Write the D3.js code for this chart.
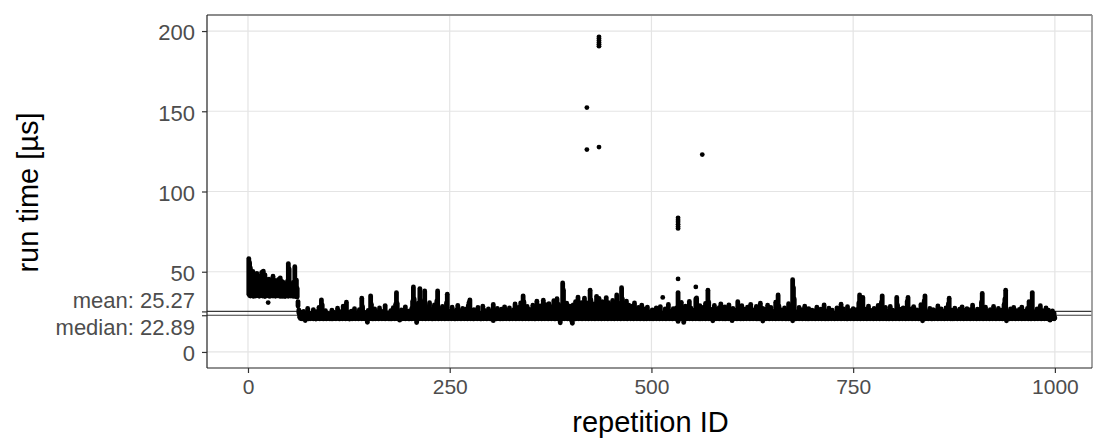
<!DOCTYPE html>
<html>
<head>
<meta charset="utf-8">
<script src="https://cdn.jsdelivr.net/npm/d3@7/dist/d3.min.js"></script>
<style>
  html, body { margin: 0; padding: 0; background: #ffffff; }
  svg { display: block; }
  text { font-family: "Liberation Sans", Arial, Helvetica, sans-serif; }
</style>
</head>
<body>
<svg id="chart" width="1094" height="440"></svg>
<script>
// Slowest regular run of each repetition, in microseconds (repetition IDs 1..1000, in order).
const runTimeHigh = [
  58.2, 55.6, 52.4, 47.1, 44.3, 50.2, 41.5, 38.2, 45.6, 36.1, 48.9, 42.3, 39.4, 47.2, 35.3, 44.1, 49.6, 38.5, 50.4, 36.2, 48.1, 43.4, 37.2, 40.6, 45.0,
  45.3, 39.1, 36.4, 42.5, 37.3, 47.2, 44.8, 38.1, 35.2, 44.4, 40.1, 37.5, 45.2, 36.3, 46.1, 38.4, 43.9, 34.6, 43.3, 39.2, 36.5, 42.1, 37.4, 44.2, 55.1,
  51.8, 38.3, 35.4, 41.2, 37.1, 43.3, 36.2, 53.1, 34.5, 44.8, 39.6, 31.4, 26.2, 23.5, 21.2, 24.8, 20.6, 22.1, 25.3, 21.4, 23.7, 20.9, 22.6, 27.1, 21.8,
  22.4, 20.8, 24.1, 21.5, 23.2, 26.4, 21.1, 22.7, 20.5, 25.1, 23.6, 21.3, 27.8, 22.2, 24.5, 32.5, 29.4, 23.1, 20.7, 22.9, 25.7, 21.6, 24.2, 20.9, 22.3,
  21.4, 23.8, 20.6, 26.1, 22.5, 21.2, 24.7, 20.8, 23.4, 22.0, 27.3, 21.5, 25.2, 20.7, 22.8, 24.0, 21.3, 28.6, 23.1, 20.9, 26.5, 31.0, 22.4, 21.0, 24.6,
  20.5, 22.9, 25.4, 21.7, 23.3, 20.8, 27.0, 22.1, 24.4, 21.2, 23.7, 20.6, 26.3, 22.6, 21.4, 33.5, 28.2, 22.0, 24.8, 20.9, 23.1, 21.5, 22.4, 25.9, 22.3,
  24.1, 35.0, 29.6, 21.3, 23.5, 20.7, 26.8, 22.2, 21.0, 24.9, 23.0, 20.6, 27.4, 21.8, 22.7, 25.3, 20.9, 23.9, 21.4, 28.9, 22.5, 20.8, 24.3, 21.7, 23.2,
  20.6, 25.8, 22.1, 21.3, 27.6, 23.4, 20.9, 29.8, 37.0, 30.2, 22.6, 21.1, 24.7, 20.7, 26.2, 22.9, 21.5, 23.6, 20.8, 28.1, 24.0, 21.2, 22.4, 25.5, 20.6,
  23.3, 21.0, 27.2, 31.5, 40.5, 33.0, 22.2, 24.6, 24.0, 26.9, 30.4, 23.7, 39.5, 32.1, 21.4, 25.0, 28.3, 22.8, 38.0, 29.1, 24.2, 20.9, 27.5, 22.0, 30.7,
  23.6, 21.3, 26.4, 20.7, 24.9, 29.3, 22.5, 21.1, 31.8, 38.0, 27.7, 23.0, 20.8, 25.6, 22.3, 28.4, 21.6, 24.2, 20.6, 26.8, 30.5, 36.0, 23.9, 21.2, 25.3,
  22.7, 20.9, 27.9, 23.4, 21.5, 24.8, 20.7, 26.0, 22.1, 29.0, 23.7, 21.0, 25.4, 20.6, 22.8, 27.2, 21.8, 24.3, 20.8, 26.6, 23.1, 21.4, 28.8, 30.9, 32.5,
  24.5, 21.1, 22.9, 20.7, 26.3, 23.8, 21.6, 25.1, 20.9, 27.7, 22.4, 21.2, 24.0, 20.6, 23.5, 28.5, 22.0, 25.9, 21.3, 20.8, 24.6, 22.6, 26.9, 21.5, 23.2,
  20.7, 25.6, 22.3, 29.6, 21.4, 24.1, 20.9, 23.6, 27.1, 21.7, 22.8, 25.2, 20.6, 26.7, 23.0, 21.3, 24.4, 28.1, 22.2, 20.8, 25.8, 21.9, 23.4, 27.4, 21.1,
  24.9, 22.5, 20.7, 26.2, 23.7, 29.9, 21.5, 25.4, 22.0, 27.8, 20.9, 24.3, 30.6, 23.1, 21.6, 35.0, 31.2, 22.7, 25.7, 20.8, 28.4, 23.9, 21.2, 26.5, 22.4,
  21.0, 24.7, 29.1, 22.6, 20.7, 27.3, 23.5, 31.6, 21.8, 25.5, 20.9, 28.7, 23.2, 26.1, 21.4, 32.3, 24.8, 22.1, 29.5, 20.8, 27.0, 23.8, 30.1, 22.5, 25.9,
  21.3, 28.2, 24.0, 31.9, 22.9, 20.7, 26.4, 33.2, 23.6, 29.7, 21.5, 25.1, 27.5, 24.4, 43.0, 38.5, 22.8, 26.9, 20.9, 30.4, 23.3, 25.2, 21.6, 28.6, 22.1,
  24.6, 26.0, 29.3, 22.4, 26.7, 31.4, 21.2, 25.0, 34.2, 23.7, 27.9, 20.8, 30.8, 24.1, 22.6, 28.0, 33.6, 21.7, 26.3, 30.5, 27.3, 29.2, 24.9, 38.5, 32.4,
  23.0, 27.2, 21.4, 30.0, 25.6, 22.5, 34.7, 28.5, 29.8, 33.4, 26.2, 24.5, 26.1, 31.3, 23.8, 20.9, 29.4, 24.7, 33.9, 22.2, 27.6, 30.7, 21.5, 25.3, 28.9,
  23.4, 32.1, 26.8, 21.1, 29.9, 24.3, 35.5, 22.7, 27.4, 30.3, 20.8, 25.8, 40.0, 33.1, 23.9, 28.2, 21.6, 26.0, 31.7, 24.5, 22.0, 29.1, 27.1, 20.7, 25.1,
  23.6, 28.7, 21.9, 30.5, 24.8, 22.3, 26.6, 20.9, 27.7, 23.1, 25.4, 21.5, 29.2, 22.6, 24.2, 20.7, 26.9, 23.8, 21.2, 28.0, 22.4, 25.0, 20.8, 24.5, 21.7,
  26.2, 22.8, 20.9, 24.9, 23.3, 27.5, 21.4, 25.7, 22.1, 20.6, 28.3, 23.7, 21.0, 23.5, 24.4, 22.5, 26.8, 20.8, 23.9, 21.6, 29.6, 22.9, 25.3, 21.2, 24.1,
  20.7, 27.0, 22.3, 25.5, 21.5, 27.4, 24.9, 37.0, 29.5, 26.0, 23.6, 30.9, 21.1, 26.4, 23.0, 24.0, 28.6, 22.7, 20.9, 25.8, 23.2, 31.5, 21.8, 27.3, 22.5,
  24.7, 20.8, 26.1, 23.0, 33.0, 33.7, 21.3, 25.2, 22.1, 28.9, 20.7, 24.6, 24.6, 27.8, 23.4, 21.6, 30.2, 25.9, 22.8, 38.5, 31.1, 21.0, 26.7, 23.7, 20.9,
  25.0, 22.2, 29.0, 21.4, 24.3, 26.9, 20.8, 23.5, 27.6, 22.0, 30.0, 21.2, 25.6, 23.1, 20.7, 28.1, 24.8, 22.6, 26.3, 21.0, 29.4, 23.8, 20.9, 25.4, 22.3,
  27.2, 21.6, 24.2, 20.8, 26.0, 22.9, 31.3, 23.6, 21.1, 25.9, 20.7, 28.8, 24.5, 22.4, 26.6, 21.3, 23.9, 20.9, 27.9, 22.7, 25.1, 21.5, 29.7, 23.3, 20.8,
  24.8, 22.2, 26.4, 21.0, 28.4, 23.4, 20.7, 25.7, 22.6, 30.4, 21.4, 24.0, 27.1, 22.9, 20.8, 26.5, 23.2, 21.6, 29.1, 24.6, 22.0, 20.9, 27.8, 23.7, 21.3,
  25.3, 22.5, 20.8, 31.0, 24.2, 21.7, 35.5, 28.6, 23.0, 20.9, 26.2, 22.3, 24.9, 21.2, 27.4, 23.5, 20.7, 25.6, 22.8, 30.1, 21.5, 24.4, 26.9, 22.1, 45.0,
  40.0, 33.0, 22.6, 20.8, 25.0, 23.3, 21.1, 27.7, 22.4, 24.7, 20.9, 26.3, 23.8, 21.6, 28.5, 22.0, 25.5, 20.7, 23.6, 27.0, 21.8, 24.1, 22.7, 26.0, 21.3,
  23.1, 20.8, 25.8, 22.2, 28.0, 21.5, 24.4, 20.9, 23.4, 26.6, 22.5, 21.0, 24.9, 29.3, 22.9, 20.7, 25.2, 23.0, 21.4, 27.3, 22.1, 24.6, 20.8, 26.1, 23.5,
  21.2, 24.0, 22.6, 20.9, 27.5, 23.2, 21.7, 25.4, 22.0, 29.8, 20.8, 24.2, 26.8, 22.8, 21.3, 23.7, 20.7, 28.2, 24.8, 22.3, 21.0, 25.7, 23.4, 20.9, 27.0,
  22.5, 24.5, 21.6, 26.3, 23.0, 20.8, 30.5, 35.5, 22.7, 25.1, 21.2, 34.0, 23.8, 20.9, 26.7, 22.2, 24.3, 21.4, 28.6, 23.3, 20.7, 25.9, 22.0, 24.7, 21.5,
  27.2, 23.1, 20.9, 25.0, 22.4, 29.0, 21.7, 24.6, 26.5, 31.0, 35.0, 22.9, 20.8, 24.1, 27.8, 21.3, 23.6, 25.5, 20.7, 22.6, 28.4, 24.0, 21.1, 26.1, 23.2,
  20.9, 25.3, 22.1, 34.0, 29.2, 23.7, 21.4, 26.6, 20.8, 24.4, 22.7, 27.5, 21.0, 23.9, 25.8, 22.3, 31.5, 34.0, 20.7, 24.8, 22.5, 26.9, 21.6, 23.4, 28.3,
  22.0, 24.9, 20.9, 26.2, 23.1, 21.5, 25.6, 22.8, 29.5, 21.2, 24.3, 27.6, 31.8, 35.0, 22.4, 20.8, 25.1, 23.6, 21.8, 27.1, 22.9, 24.5, 20.7, 26.4, 23.3,
  21.4, 25.7, 22.6, 20.9, 28.7, 23.8, 21.1, 24.6, 26.8, 22.2, 20.8, 25.2, 23.5, 21.7, 27.4, 22.5, 24.1, 29.9, 33.5, 21.3, 23.0, 26.1, 20.7, 24.8, 22.4,
  27.3, 21.6, 23.7, 25.5, 20.9, 22.8, 26.6, 21.2, 24.2, 28.1, 22.1, 20.8, 25.9, 23.4, 21.5, 27.0, 22.7, 24.5, 20.9, 26.3, 23.1, 21.0, 29.2, 22.4, 25.0,
  21.8, 24.0, 22.9, 26.7, 20.8, 23.6, 25.3, 21.3, 31.0, 36.5, 22.6, 24.7, 20.9, 27.9, 23.0, 21.5, 25.6, 22.2, 20.7, 26.4, 23.8, 21.1, 24.3, 28.4, 22.5,
  20.9, 25.4, 23.2, 21.7, 27.1, 22.0, 24.9, 20.8, 26.0, 23.5, 21.4, 29.6, 33.0, 38.5, 22.8, 25.2, 21.0, 23.9, 20.7, 26.8, 22.3, 24.4, 21.6, 27.7, 23.1,
  21.2, 25.8, 22.6, 20.9, 24.2, 26.5, 23.3, 21.5, 28.0, 22.1, 24.7, 20.8, 25.5, 23.7, 21.3, 27.2, 22.9, 31.4, 24.0, 20.7, 26.2, 37.0, 22.4, 25.1, 21.8,
  23.6, 20.9, 26.9, 22.2, 24.6, 21.4, 28.8, 23.0, 20.8, 25.7, 22.7, 24.3, 21.1, 27.4, 23.4, 20.9, 26.1, 22.5, 24.8, 21.6, 23.9, 25.6, 22.1, 24.2, 21.3
];

// Fastest run of each repetition, in microseconds (same order).
const runTimeLow = [
  36.0, 35.2, 34.8, 35.5, 36.3, 35.0, 34.6, 35.8, 36.1, 34.9, 35.4, 36.6, 35.1, 34.7, 35.9, 35.3, 36.2, 34.8, 35.6, 35.0, 34.5, 35.7, 36.0, 35.2, 34.9,
  35.5, 34.6, 35.9, 36.3, 35.1, 34.8, 35.6, 36.1, 34.7, 35.3, 35.8, 34.9, 36.4, 35.0, 34.6, 35.4, 36.0, 34.8, 35.7, 35.2, 34.5, 35.9, 36.2, 35.0, 34.7,
  35.3, 36.0, 34.8, 35.6, 35.1, 34.6, 35.8, 36.3, 34.9, 35.4, 34.2, 28.6, 24.3, 21.6, 20.8, 21.2, 20.6, 20.9, 21.4, 20.7, 19.6, 21.1, 20.8, 21.3, 20.6,
  21.0, 20.7, 21.3, 20.9, 21.5, 20.6, 21.1, 20.8, 21.2, 20.7, 21.4, 20.9, 21.0, 20.6, 21.3, 20.8, 21.1, 20.7, 21.5, 20.9, 21.2, 20.6, 21.0, 20.8, 21.3,
  20.7, 21.1, 20.9, 21.4, 20.6, 21.2, 20.8, 21.0, 20.7, 21.3, 20.9, 21.5, 20.6, 21.1, 20.8, 21.2, 20.7, 21.0, 20.9, 21.4, 20.6, 21.3, 20.8, 21.1, 20.7,
  21.2, 20.8, 21.0, 20.6, 21.3, 20.9, 21.1, 20.7, 21.4, 20.8, 21.0, 20.6, 21.2, 20.9, 21.5, 20.7, 21.1, 20.8, 21.3, 20.6, 21.0, 20.9, 18.5, 21.2, 20.7,
  21.1, 20.8, 21.4, 20.6, 21.0, 20.9, 21.3, 20.7, 21.2, 20.8, 21.0, 20.6, 21.5, 20.9, 21.1, 20.7, 21.3, 20.8, 21.0, 20.6, 21.2, 20.9, 21.4, 20.7, 21.1,
  20.8, 21.2, 20.6, 21.0, 20.9, 21.3, 20.7, 21.1, 20.8, 21.4, 20.6, 21.0, 19.8, 20.9, 21.2, 20.7, 21.1, 20.8, 21.3, 20.6, 21.0, 20.9, 21.5, 20.7, 21.2,
  20.8, 21.1, 20.6, 21.3, 20.9, 21.0, 20.7, 21.2, 18.3, 20.8, 21.4, 20.6, 21.1, 20.9, 21.0, 20.7, 21.3, 20.8, 21.2, 20.6, 21.0, 20.9, 21.4, 20.7, 21.1,
  20.9, 21.2, 20.6, 21.0, 20.8, 21.3, 20.7, 21.1, 20.9, 21.4, 20.6, 21.0, 20.8, 21.2, 20.7, 21.1, 20.9, 21.3, 20.6, 21.0, 20.8, 21.5, 20.7, 21.2, 20.9,
  21.0, 20.7, 21.3, 20.8, 21.1, 20.6, 21.2, 20.9, 21.0, 20.7, 21.4, 20.8, 21.1, 20.6, 21.3, 20.9, 21.0, 20.7, 21.2, 20.8, 21.1, 20.6, 21.4, 20.9, 21.0,
  20.7, 21.2, 20.8, 21.1, 20.6, 21.3, 20.9, 21.0, 20.7, 21.4, 20.8, 21.1, 20.6, 21.2, 20.9, 21.0, 20.7, 21.3, 20.8, 21.1, 20.6, 21.2, 20.9, 21.5, 20.7,
  21.1, 20.8, 21.0, 19.5, 21.3, 20.9, 21.2, 20.6, 21.0, 20.8, 21.4, 20.7, 21.1, 20.9, 21.3, 20.6, 21.0, 20.8, 21.2, 20.7, 21.1, 20.9, 21.4, 20.6, 21.0,
  20.8, 21.2, 20.7, 21.1, 20.9, 21.3, 20.6, 21.0, 20.8, 21.4, 20.7, 21.1, 20.9, 21.2, 20.6, 21.0, 20.8, 21.3, 20.7, 21.1, 20.9, 21.5, 20.6, 21.2, 20.8,
  21.0, 20.7, 21.3, 20.9, 21.1, 20.6, 21.2, 20.8, 21.0, 20.7, 21.4, 20.9, 21.1, 20.6, 21.3, 20.8, 21.0, 20.7, 21.2, 20.9, 21.1, 20.6, 21.4, 20.8, 21.0,
  20.7, 21.2, 20.9, 21.0, 20.6, 21.3, 20.8, 21.1, 20.7, 21.4, 20.9, 18.2, 20.6, 21.2, 20.8, 21.0, 20.7, 21.3, 20.9, 21.1, 20.6, 21.2, 20.8, 21.0, 20.7,
  19.4, 17.9, 21.1, 20.8, 21.3, 20.6, 21.0, 20.9, 21.2, 20.7, 21.1, 20.8, 21.4, 20.6, 21.0, 20.9, 21.3, 20.7, 21.1, 20.8, 21.2, 20.6, 21.0, 20.9, 21.4,
  20.7, 21.1, 20.8, 21.3, 20.6, 21.0, 20.9, 21.2, 20.7, 21.1, 20.8, 21.4, 20.6, 21.0, 20.9, 21.3, 20.7, 21.1, 20.8, 21.2, 20.6, 21.0, 20.9, 21.5, 20.7,
  21.2, 20.8, 21.0, 20.6, 21.3, 20.9, 21.1, 20.7, 21.4, 20.8, 21.0, 20.6, 21.2, 20.9, 21.1, 20.7, 21.3, 20.8, 21.0, 20.6, 21.2, 20.9, 21.4, 20.7, 21.1,
  20.8, 21.0, 20.6, 21.3, 20.9, 21.1, 20.7, 21.2, 20.8, 21.4, 20.6, 21.0, 20.9, 21.3, 20.7, 21.1, 20.8, 21.2, 20.6, 21.0, 20.9, 21.4, 20.7, 21.1, 20.8,
  21.2, 20.6, 21.0, 20.9, 21.3, 20.7, 21.1, 20.8, 21.4, 20.6, 21.0, 20.9, 21.2, 20.7, 21.1, 20.8, 21.3, 20.6, 21.0, 20.9, 21.2, 20.7, 21.4, 20.8, 21.0,
  20.6, 21.2, 20.9, 21.1, 20.7, 21.3, 20.8, 19.0, 21.0, 20.6, 21.2, 20.9, 21.1, 20.7, 18.4, 20.8, 21.3, 20.6, 21.0, 20.9, 21.2, 20.7, 21.1, 20.8, 21.4,
  20.6, 21.0, 20.9, 21.2, 20.7, 21.1, 20.8, 21.3, 20.6, 21.0, 20.9, 21.4, 20.7, 21.1, 20.8, 21.2, 20.6, 21.0, 20.9, 21.3, 20.7, 21.1, 20.8, 21.2, 20.6,
  19.4, 21.0, 20.9, 21.3, 20.7, 21.1, 20.8, 21.2, 20.6, 21.0, 20.9, 21.4, 20.7, 21.1, 20.8, 21.3, 20.6, 21.0, 20.9, 21.2, 20.7, 21.1, 20.8, 21.4, 19.5,
  21.0, 20.7, 21.2, 20.9, 21.1, 20.6, 21.3, 20.8, 21.0, 20.7, 21.4, 20.9, 21.1, 20.6, 21.2, 20.8, 21.0, 20.7, 21.3, 20.9, 21.1, 20.6, 21.2, 20.8, 21.0,
  20.7, 21.3, 20.9, 21.1, 20.6, 21.2, 20.8, 21.0, 20.7, 21.4, 20.9, 21.1, 19.3, 21.2, 20.8, 21.0, 20.7, 21.3, 20.9, 21.1, 20.6, 21.2, 20.8, 21.4, 20.7,
  21.1, 20.9, 21.0, 20.6, 21.3, 20.8, 21.1, 20.7, 21.2, 20.9, 21.0, 20.6, 21.4, 20.8, 21.1, 20.7, 21.2, 20.9, 21.0, 20.6, 21.3, 20.8, 21.1, 20.7, 19.4,
  21.2, 20.9, 21.0, 20.6, 21.3, 20.8, 21.1, 20.7, 21.4, 20.9, 21.0, 20.6, 21.2, 20.8, 21.1, 20.7, 21.3, 20.9, 21.0, 20.6, 21.2, 20.8, 21.4, 20.7, 21.1,
  20.9, 21.0, 20.6, 21.3, 20.8, 21.1, 20.7, 21.2, 20.9, 21.0, 20.6, 21.4, 20.8, 21.1, 20.7, 21.2, 20.9, 21.0, 20.6, 21.3, 20.8, 21.1, 20.7, 21.2, 20.9,
  21.0, 20.6, 21.4, 20.8, 21.1, 20.7, 21.2, 20.9, 21.0, 20.6, 21.3, 20.8, 21.1, 20.7, 21.2, 20.9, 21.0, 20.6, 21.4, 20.8, 21.1, 20.7, 21.2, 20.9, 21.0,
  20.6, 21.3, 20.8, 21.1, 20.7, 21.2, 20.9, 21.0, 20.6, 21.4, 20.8, 21.1, 20.7, 21.2, 20.9, 21.0, 20.6, 21.3, 20.8, 21.1, 20.7, 21.2, 20.9, 21.0, 20.6,
  21.4, 20.8, 21.1, 20.7, 21.2, 20.9, 21.0, 20.6, 21.3, 20.8, 21.1, 20.7, 21.2, 20.9, 21.0, 20.6, 21.4, 20.8, 21.1, 20.7, 21.2, 20.9, 21.0, 20.6, 21.3,
  20.8, 21.1, 20.7, 21.2, 20.9, 21.0, 20.6, 21.4, 20.8, 21.1, 20.7, 21.2, 20.9, 21.0, 20.6, 21.3, 20.8, 21.1, 20.7, 21.2, 20.9, 21.0, 20.6, 21.4, 20.8,
  21.1, 20.7, 21.2, 20.9, 21.0, 20.6, 21.3, 20.8, 21.1, 20.7, 19.4, 20.9, 21.0, 20.6, 21.4, 20.8, 21.1, 20.7, 21.2, 20.9, 21.0, 20.6, 21.3, 20.8, 21.1,
  20.7, 21.2, 20.9, 21.0, 20.6, 21.4, 20.8, 21.1, 20.7, 21.2, 20.9, 21.0, 20.6, 21.3, 20.8, 21.1, 20.7, 21.2, 20.9, 21.0, 20.6, 21.4, 20.8, 21.1, 20.7,
  21.2, 20.9, 21.0, 20.6, 21.3, 20.8, 21.1, 20.7, 21.2, 20.9, 21.0, 20.6, 21.4, 20.8, 21.1, 20.7, 21.2, 20.9, 21.0, 20.6, 21.3, 20.8, 21.1, 20.7, 21.2,
  20.9, 21.0, 20.6, 21.4, 20.8, 21.1, 20.7, 21.2, 20.9, 21.0, 20.6, 21.3, 20.8, 21.1, 20.7, 21.2, 20.9, 21.0, 20.6, 21.4, 20.8, 21.1, 20.7, 21.2, 20.9,
  21.0, 20.6, 21.3, 20.8, 21.1, 20.7, 21.2, 20.9, 21.0, 20.6, 21.4, 20.8, 21.1, 20.7, 19.4, 20.9, 21.0, 20.6, 21.3, 20.8, 21.1, 20.7, 21.2, 20.9, 21.0,
  20.6, 21.4, 20.8, 21.1, 20.7, 21.2, 20.9, 21.0, 20.6, 21.3, 20.8, 21.1, 20.7, 21.2, 20.9, 21.0, 20.6, 21.4, 20.8, 21.1, 20.7, 21.2, 20.9, 21.0, 20.6,
  21.3, 20.8, 21.1, 20.7, 21.2, 20.9, 21.0, 20.6, 21.4, 20.8, 21.1, 20.7, 21.2, 20.9, 21.0, 20.6, 21.3, 20.8, 19.8, 20.7, 21.2, 20.9, 21.0, 20.6, 21.1
];

// Isolated runs well away from the rest of their repetition: repetition ID and run time
const isolatedRunIds   = [25, 420, 420, 435, 435, 435, 435, 435, 435, 435, 514, 533, 533, 533, 533, 533, 533, 555, 563];
const isolatedRunTimes = [30.8, 152.3, 126.1, 196.4, 195.3, 194.1, 192.9, 191.7, 190.6, 127.7, 34.0, 83.6, 82.3, 81.0, 79.6, 78.2, 77.0, 40.5, 123.0];
const isolatedExtra    = [[533, 45.5]];

// Summary statistics shown on the y axis
const meanRunTime = 25.27;
const medianRunTime = 22.89;

// Axis ticks
const xTicks = [0, 250, 500, 750, 1000];
const yTicks = [0, 50, 100, 150, 200];

const repetitions = runTimeHigh.map((hi, i) => ({ id: i + 1, low: runTimeLow[i], high: hi }));
const isolated = isolatedRunIds.map((id, i) => ({ id, time: isolatedRunTimes[i] }))
  .concat(isolatedExtra.map(([id, time]) => ({ id, time })));

const svg = d3.select("#chart");
const panel = { left: 207, right: 1092, top: 15, bottom: 368 };
const dot = 4.8;

const x = d3.scaleLinear().domain([-50.8, 1046]).range([panel.left, panel.right]);
const y = d3.scaleLinear().domain([-10, 210]).range([panel.bottom, panel.top]);

// Grid
const grid = svg.append("g");
grid.selectAll("line.gx").data(xTicks).join("line")
  .attr("x1", d => x(d)).attr("x2", d => x(d))
  .attr("y1", panel.top).attr("y2", panel.bottom)
  .attr("stroke", "#e4e4e4").attr("stroke-width", 1.2);
grid.selectAll("line.gy").data(yTicks).join("line")
  .attr("x1", panel.left).attr("x2", panel.right)
  .attr("y1", d => y(d)).attr("y2", d => y(d))
  .attr("stroke", "#e4e4e4").attr("stroke-width", 1.2);

// Mean and median reference lines
svg.append("g").selectAll("line").data([meanRunTime, medianRunTime]).join("line")
  .attr("x1", panel.left).attr("x2", panel.right)
  .attr("y1", d => y(d)).attr("y2", d => y(d))
  .attr("stroke", "#3a3a3a").attr("stroke-width", 1.1);

// Runs of each repetition, stacked from fastest to slowest
svg.append("g").selectAll("line").data(repetitions).join("line")
  .attr("x1", d => x(d.id)).attr("x2", d => x(d.id))
  .attr("y1", d => y(d.low)).attr("y2", d => y(d.high))
  .attr("stroke", "#000").attr("stroke-width", dot).attr("stroke-linecap", "round");

// Isolated runs
svg.append("g").selectAll("circle").data(isolated).join("circle")
  .attr("cx", d => x(d.id)).attr("cy", d => y(d.time))
  .attr("r", dot / 2).attr("fill", "#000");

// Panel border
svg.append("line").attr("x1", panel.left).attr("x2", panel.right)
  .attr("y1", panel.top).attr("y2", panel.top)
  .attr("stroke", "#8c8c8c").attr("stroke-width", 2);
svg.append("line").attr("x1", panel.right).attr("x2", panel.right)
  .attr("y1", panel.top).attr("y2", panel.bottom)
  .attr("stroke", "#8c8c8c").attr("stroke-width", 1.6);

// Axes
const xAxis = svg.append("g")
  .attr("transform", `translate(0,${panel.bottom})`)
  .call(d3.axisBottom(x).tickValues(xTicks).tickSize(5).tickPadding(6).tickFormat(d3.format("d")));
const yAxis = svg.append("g")
  .attr("transform", `translate(${panel.left},0)`)
  .call(d3.axisLeft(y).tickValues(yTicks).tickSize(5).tickPadding(7).tickFormat(d3.format("d")));
const statAxis = svg.append("g")
  .attr("transform", `translate(${panel.left},0)`)
  .call(d3.axisLeft(y).tickValues([meanRunTime, medianRunTime]).tickSize(5).tickPadding(7)
    .tickFormat(d => d === meanRunTime ? "mean: " + d3.format(".2f")(d) : "median: " + d3.format(".2f")(d)));
statAxis.select(".domain").remove();

[xAxis, yAxis, statAxis].forEach(g => {
  g.selectAll(".domain").attr("stroke", "#222").attr("stroke-width", 1.2);
  g.selectAll(".tick line").attr("stroke", "#333").attr("stroke-width", 1.2);
  g.selectAll(".tick text").attr("fill", "#4d4d4d");
});
xAxis.selectAll(".tick text").style("font-size", "21px");
yAxis.selectAll(".tick text").style("font-size", "22px").attr("dy", "0.4em");
statAxis.selectAll(".tick text").style("font-size", "22px")
  .attr("dy", d => d === meanRunTime ? "-0.2em" : "0.88em");
xAxis.select(".domain").attr("d", `M${panel.left},0H${panel.right}`);
yAxis.select(".domain").attr("d", `M0,${panel.top}V${panel.bottom}`);

// Axis titles
svg.append("text")
  .attr("x", (panel.left + panel.right) / 2 + 1)
  .attr("y", 432)
  .attr("text-anchor", "middle")
  .style("font-size", "29px")
  .attr("fill", "#000")
  .text("repetition ID");
svg.append("text")
  .attr("transform", `translate(38,${(panel.top + panel.bottom) / 2 + 1}) rotate(-90)`)
  .attr("text-anchor", "middle")
  .style("font-size", "29px")
  .attr("fill", "#000")
  .text("run time [µs]");
</script>
</body>
</html>
